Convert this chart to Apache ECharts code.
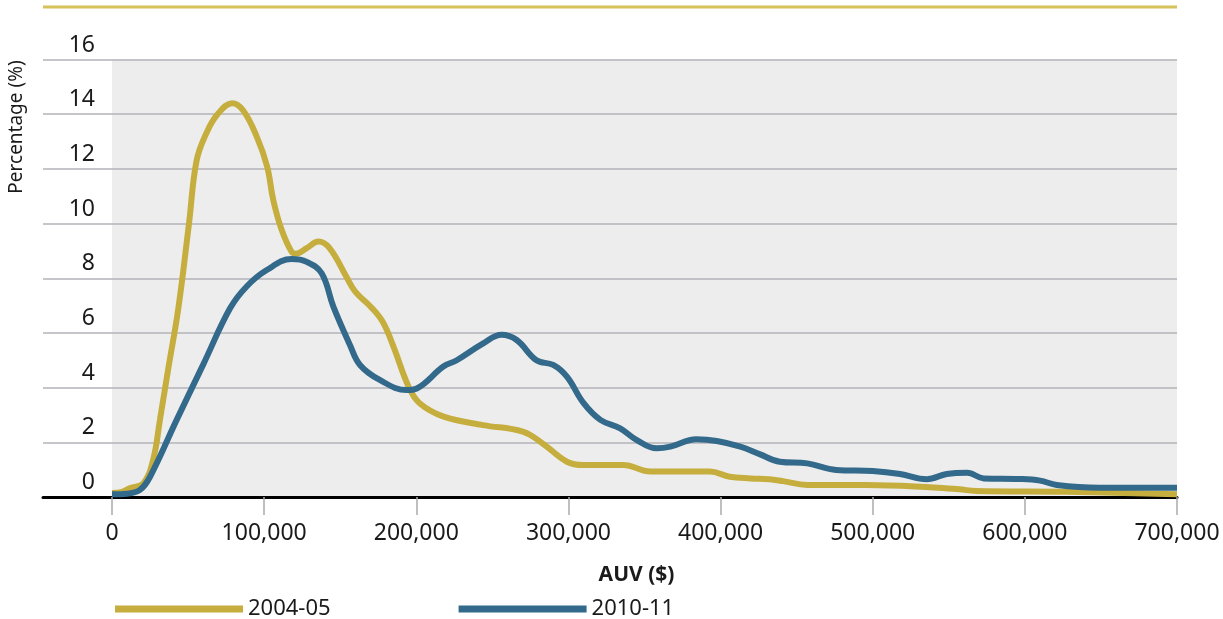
<!DOCTYPE html>
<html>
<head>
<meta charset="utf-8">
<script src="https://cdn.jsdelivr.net/npm/echarts@6/dist/echarts.min.js"></script>
<style>
  html, body { margin: 0; padding: 0; background: #fff; }
  #chart { width: 1223px; height: 619px; }
</style>
</head>
<body>
<div id="chart"></div>
<script>
// AUV distribution, 2004-05 vs 2010-11

var seriesNames = ['2004-05', '2010-11'];

// AUV in $ thousands, percentage
var auv2004 = [0, 6, 12, 20.6, 27, 31.5, 37, 43.6, 50.6, 55.6, 62, 69, 79, 86, 95, 102, 106, 111.5, 118, 121, 128, 135.6, 143, 154, 160, 170, 178, 185, 195, 202, 218, 244, 270, 283, 299, 310, 336, 354, 393, 406, 420, 432, 441, 457, 496, 540, 557, 568, 628, 700];
var pct2004 = [0.15, 0.18, 0.33, 0.5, 1.35, 2.82, 4.7, 6.9, 10.0, 12.3, 13.3, 13.97, 14.4, 14.15, 13.2, 12.08, 10.86, 9.77, 8.97, 8.9, 9.1, 9.34, 9.1, 8.06, 7.5, 6.96, 6.4, 5.5, 4.03, 3.44, 2.94, 2.63, 2.39, 1.96, 1.29, 1.17, 1.17, 0.93, 0.93, 0.74, 0.68, 0.65, 0.58, 0.44, 0.44, 0.35, 0.28, 0.22, 0.19, 0.1];

var auv2010 = [0, 10, 18.4, 25, 42.5, 60, 77.6, 88.5, 101.7, 118, 128, 137.8, 145.5, 156.4, 163, 176, 193.7, 200.3, 217.8, 226.6, 244, 256, 266, 279, 290, 299, 310, 321, 334, 345, 358, 367, 384, 397.5, 413, 426, 439, 457, 476, 500, 518, 535.5, 548.6, 562, 573, 597, 610, 621, 649, 700];
var pct2010 = [0.1, 0.12, 0.26, 0.74, 2.82, 4.85, 6.9, 7.7, 8.3, 8.7, 8.6, 8.18, 6.96, 5.56, 4.83, 4.28, 3.91, 3.97, 4.77, 5.0, 5.62, 5.93, 5.74, 5.0, 4.83, 4.4, 3.43, 2.82, 2.51, 2.08, 1.78, 1.84, 2.11, 2.05, 1.84, 1.56, 1.29, 1.23, 0.99, 0.95, 0.84, 0.65, 0.84, 0.89, 0.68, 0.66, 0.6, 0.44, 0.34, 0.34];

var gold = '#c6ae3e';
var blue = '#33698a';
var font = '"Noto Sans", sans-serif';

function pairs(xs, ys) {
  var out = [];
  for (var i = 0; i < xs.length; i++) {
    out.push([xs[i] * 1000, ys[i]]);
  }
  return out;
}

var myChart = echarts.init(document.getElementById('chart'));

var option = {
  animation: false,
  grid: [
    // plot area (grey)
    { left: 112, right: 46, top: 59.5, bottom: 122, show: true, backgroundColor: '#ededed', borderWidth: 0 },
    // wider frame for gridlines and baseline
    { left: 43, right: 46, top: 59.5, bottom: 122 }
  ],
  legend: {
    data: seriesNames,
    left: 110,
    top: 593,
    icon: 'rect',
    itemWidth: 128,
    itemHeight: 7,
    itemGap: 128,
    textStyle: { fontFamily: font, fontSize: 22, color: '#1a1a1a' }
  },
  graphic: [
    {
      type: 'line',
      shape: { x1: 43, y1: 7, x2: 1177, y2: 7 },
      style: { stroke: '#d6c15a', lineWidth: 3 }
    },
    {
      type: 'text',
      x: 17, y: 127,
      rotation: Math.PI / 2,
      style: {
        text: 'Percentage (%)',
        align: 'center',
        verticalAlign: 'middle',
        fontFamily: font,
        fontSize: 19,
        fill: '#1a1a1a'
      }
    }
  ],
  xAxis: [
    {
      gridIndex: 0,
      type: 'value',
      min: 0,
      max: 700000,
      interval: 100000,
      name: 'AUV ($)',
      nameLocation: 'middle',
      nameGap: 68,
      nameTextStyle: {
        fontFamily: font, fontSize: 21, fontWeight: 'bold', color: '#1a1a1a',
        padding: [0, 16, 0, 0]
      },
      axisLine: { show: false },
      axisTick: { length: 18, lineStyle: { color: '#aaa', width: 1.5 } },
      axisLabel: {
        margin: 25,
        fontFamily: font,
        fontSize: 23,
        color: '#1a1a1a',
        formatter: function (v) { return v.toLocaleString('en-US'); }
      },
      splitLine: { show: false }
    },
    {
      gridIndex: 1,
      type: 'value',
      min: 0,
      max: 1,
      axisLine: { lineStyle: { color: '#000', width: 3 } },
      axisTick: { show: false },
      axisLabel: { show: false },
      splitLine: { show: false }
    }
  ],
  yAxis: [
    {
      gridIndex: 0,
      type: 'value',
      min: 0,
      max: 16,
      interval: 2,
      show: false,
      splitLine: { show: false }
    },
    {
      gridIndex: 1,
      type: 'value',
      min: 0,
      max: 16,
      interval: 2,
      axisLine: { show: false },
      axisTick: { show: false },
      axisLabel: {
        margin: -52,
        verticalAlign: 'bottom',
        padding: [0, 0, 3, 0],
        fontFamily: font,
        fontSize: 23,
        color: '#1a1a1a'
      },
      splitLine: { lineStyle: { color: '#b3b3b8', width: 1.5 } }
    }
  ],
  series: [
    {
      name: seriesNames[0],
      type: 'line',
      xAxisIndex: 0,
      yAxisIndex: 0,
      data: pairs(auv2004, pct2004),
      smooth: 0.4,
      showSymbol: false,
      lineStyle: { color: gold, width: 6 },
      itemStyle: { color: gold }
    },
    {
      name: seriesNames[1],
      type: 'line',
      xAxisIndex: 0,
      yAxisIndex: 0,
      data: pairs(auv2010, pct2010),
      smooth: 0.4,
      showSymbol: false,
      lineStyle: { color: blue, width: 6 },
      itemStyle: { color: blue }
    }
  ]
};

option && myChart.setOption(option);
</script>
</body>
</html>
